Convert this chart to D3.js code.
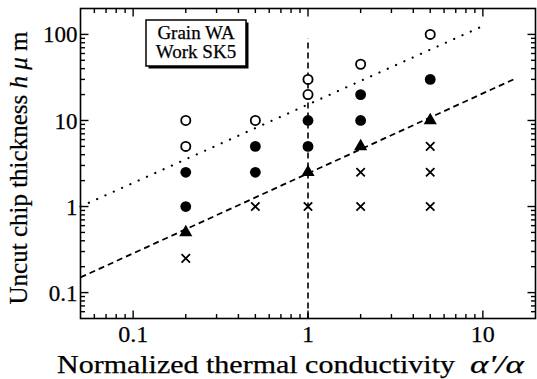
<!DOCTYPE html>
<html>
<head>
<meta charset="utf-8">
<script src="https://cdn.jsdelivr.net/npm/d3@7"></script>
<style>
  html, body { margin: 0; padding: 0; background: #fff; }
  svg { display: block; }
  text { font-family: "Liberation Serif", "Times New Roman", serif; fill: #000; stroke: #000; stroke-width: 0.25; }
</style>
</head>
<body>
<svg id="chart" width="537" height="379"></svg>
<script>
// Normalized thermal conductivity α'/α (x) vs. uncut chip thickness h in μm (y)
const openCircles = [[0.2, 10], [0.2, 5], [0.5, 10], [1, 30], [1, 20], [2, 45], [5, 100]];
const filledCircles = [[0.2, 2.5], [0.2, 1], [0.5, 5], [0.5, 2.5], [1, 10], [1, 5], [2, 20], [2, 10], [5, 30]];
const triangles = [[0.2, 0.5], [1, 2.5], [2, 5], [5, 10]];
const crosses = [[0.2, 0.25], [0.5, 1], [1, 1], [2, 2.5], [2, 1], [5, 5], [5, 2.5], [5, 1]];

// boundary lines
const dottedLine = [[0.05, 1.0], [10, 125]];
const dashedLine = [[0.05, 0.15], [15.5, 31]];
const verticalLine = [[1, 0.05], [1, 90]];

const xTickLabels = ["0.1", "1", "10"];
const yTickLabels = ["0.1", "1", "10", "100"];
const legendLines = ["Grain WA", "Work SK5"];

const xDomain = [0.05, 20];
const yDomain = [0.05, 200];

const svg = d3.select("#chart");
const plotL = 80.5, plotR = 535.5, plotT = 8.5, plotB = 318.5;

const x = d3.scaleLog().domain(xDomain).range([plotL, plotR]);
const y = d3.scaleLog().domain(yDomain).range([plotB, plotT]);

// tick values: majors at decades, minors at 2..9 within the domain
function logTicks(domain) {
  const out = [];
  for (let e = -3; e <= 3; e++) {
    for (let m = 1; m <= 9; m++) {
      const v = m * Math.pow(10, e);
      if (v >= domain[0] * 1.0001 && v <= domain[1] * 0.9999) out.push({ v, major: m === 1 });
    }
  }
  return out;
}

const g = svg.append("g");

// frame
g.append("rect")
  .attr("x", plotL).attr("y", plotT)
  .attr("width", plotR - plotL).attr("height", plotB - plotT)
  .attr("fill", "none").attr("stroke", "#000").attr("stroke-width", 1.6);

const majLen = 8, minLen = 4.5;
const xt = logTicks(xDomain), yt = logTicks(yDomain);

// bottom and top ticks (inward)
g.selectAll(".xtb").data(xt).join("line")
  .attr("x1", d => x(d.v)).attr("x2", d => x(d.v))
  .attr("y1", plotB).attr("y2", d => plotB - (d.major ? majLen : minLen))
  .attr("stroke", "#000").attr("stroke-width", 1.4);
g.selectAll(".xtt").data(xt).join("line")
  .attr("x1", d => x(d.v)).attr("x2", d => x(d.v))
  .attr("y1", plotT).attr("y2", d => plotT + (d.major ? majLen : minLen))
  .attr("stroke", "#000").attr("stroke-width", 1.4);
// left and right ticks (inward)
g.selectAll(".ytl").data(yt).join("line")
  .attr("y1", d => y(d.v)).attr("y2", d => y(d.v))
  .attr("x1", plotL).attr("x2", d => plotL + (d.major ? majLen : minLen))
  .attr("stroke", "#000").attr("stroke-width", 1.4);
g.selectAll(".ytr").data(yt).join("line")
  .attr("y1", d => y(d.v)).attr("y2", d => y(d.v))
  .attr("x1", plotR).attr("x2", d => plotR - (d.major ? majLen : minLen))
  .attr("stroke", "#000").attr("stroke-width", 1.4);

// tick labels
g.selectAll(".xl").data(xTickLabels).join("text")
  .attr("x", d => x(+d)).attr("y", 342)
  .attr("text-anchor", "middle").attr("font-size", 24)
  .text(d => d);
g.selectAll(".yl").data(yTickLabels).join("text")
  .attr("x", plotL - 3).attr("y", d => y(+d))
  .attr("dy", "0.35em")
  .attr("text-anchor", "end").attr("font-size", 23)
  .text(d => d);

// axis titles
svg.append("text")
  .attr("x", 57).attr("y", 373)
  .attr("font-size", 25)
  .attr("textLength", 398).attr("lengthAdjust", "spacingAndGlyphs")
  .text("Normalized thermal conductivity");
svg.append("text")
  .attr("x", 470).attr("y", 373)
  .attr("font-size", 25).attr("font-style", "italic")
  .attr("textLength", 54).attr("lengthAdjust", "spacingAndGlyphs")
  .text("α'/α");

const yTitle = svg.append("text")
  .attr("transform", "translate(27,168) rotate(-90)")
  .attr("text-anchor", "middle").attr("font-size", 25);
yTitle.append("tspan").text("Uncut chip thickness  ");
yTitle.append("tspan").attr("font-style", "italic").text("h");
yTitle.append("tspan").text("  ");
yTitle.append("tspan").attr("font-style", "italic").text("μ");
yTitle.append("tspan").text(" m");

// reference lines
const line = d3.line().x(d => x(d[0])).y(d => y(d[1]));
g.append("path").attr("d", line(dottedLine))
  .attr("fill", "none").attr("stroke", "#000").attr("stroke-width", 2.2)
  .attr("stroke-linecap", "round").attr("stroke-dasharray", "0.1 9");
g.append("path").attr("d", line(dashedLine))
  .attr("fill", "none").attr("stroke", "#000").attr("stroke-width", 1.8)
  .attr("stroke-dasharray", "6 4");
g.append("path").attr("d", line(verticalLine))
  .attr("fill", "none").attr("stroke", "#000").attr("stroke-width", 1.6)
  .attr("stroke-dasharray", "6 4");

// markers
g.selectAll(".oc").data(openCircles).join("circle")
  .attr("cx", d => x(d[0])).attr("cy", d => y(d[1])).attr("r", 4.6)
  .attr("fill", "#fff").attr("stroke", "#000").attr("stroke-width", 1.8);
g.selectAll(".fc").data(filledCircles).join("circle")
  .attr("cx", d => x(d[0])).attr("cy", d => y(d[1])).attr("r", 5.4)
  .attr("fill", "#000");
g.selectAll(".tr").data(triangles).join("path")
  .attr("transform", d => `translate(${x(d[0])},${y(d[1])})`)
  .attr("d", d3.symbol(d3.symbolTriangle, 75)())
  .attr("fill", "#000");
const cs = 4.2;
g.selectAll(".cr").data(crosses).join("path")
  .attr("transform", d => `translate(${x(d[0])},${y(d[1])})`)
  .attr("d", `M${-cs},${-cs}L${cs},${cs}M${-cs},${cs}L${cs},${-cs}`)
  .attr("stroke", "#000").attr("stroke-width", 1.8).attr("fill", "none");

// legend box with drop shadow
const lb = { x: 146, y: 20, w: 100, h: 46 };
g.append("rect").attr("x", lb.x + 2.5).attr("y", lb.y + 2.5)
  .attr("width", lb.w).attr("height", lb.h).attr("fill", "#000");
g.append("rect").attr("x", lb.x).attr("y", lb.y)
  .attr("width", lb.w).attr("height", lb.h)
  .attr("fill", "#fff").attr("stroke", "#000").attr("stroke-width", 1.5);
g.selectAll(".lg").data(legendLines).join("text")
  .attr("x", lb.x + lb.w / 2).attr("y", (d, i) => lb.y + 19 + i * 19)
  .attr("text-anchor", "middle").attr("font-size", 19)
  .text(d => d);
</script>
</body>
</html>
